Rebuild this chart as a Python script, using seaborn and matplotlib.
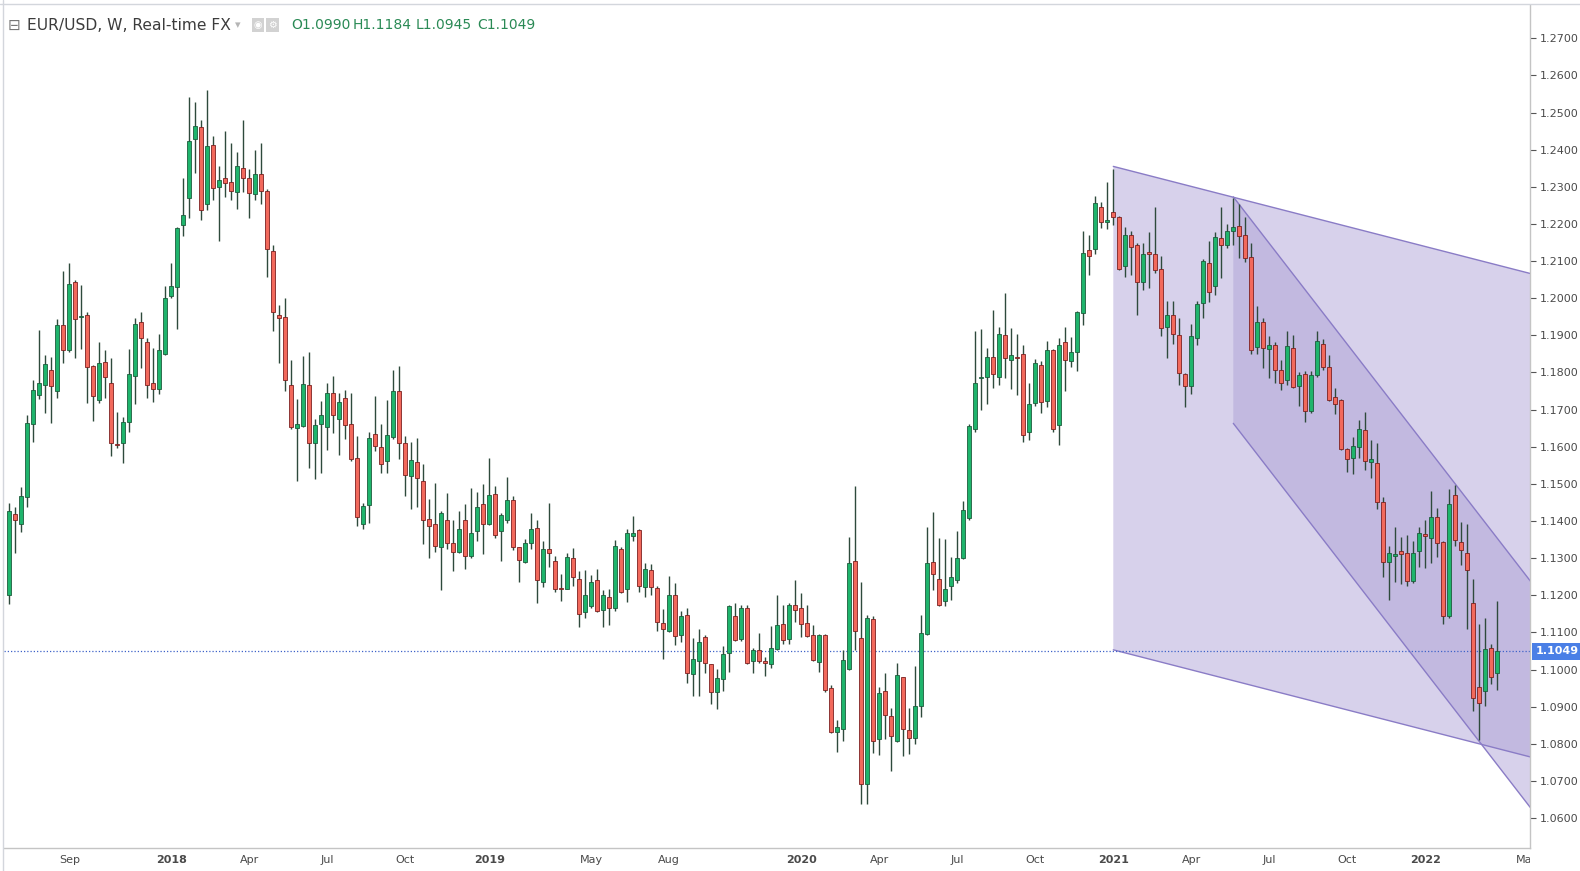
import numpy as np
import pandas as pd
import matplotlib
matplotlib.use("Agg")
import matplotlib.pyplot as plt
from matplotlib.transforms import Bbox
import seaborn as sns

START_WEEK = "2017-06-26"

opens = [1.1202, 1.1418, 1.1391, 1.1464, 1.1660, 1.1738, 1.1765, 1.1806, 1.1749, 1.1927,
         1.1860, 1.2043, 1.1950, 1.1954, 1.1817, 1.1727, 1.1827, 1.1773, 1.1608, 1.1609,
         1.1666, 1.1790, 1.1935, 1.1881, 1.1771, 1.1755, 1.1851, 1.2005, 1.2029, 1.2198,
         1.2269, 1.2428, 1.2460, 1.2255, 1.2412, 1.2299, 1.2325, 1.2312, 1.2285, 1.2350,
         1.2325, 1.2280, 1.2334, 1.2290, 1.2126, 1.1954, 1.1949, 1.1765, 1.1650, 1.1657,
         1.1765, 1.1609, 1.1660, 1.1652, 1.1746, 1.1676, 1.1730, 1.1660, 1.1571, 1.1391,
         1.1442, 1.1633, 1.1598, 1.1561, 1.1625, 1.1749, 1.1609, 1.1520, 1.1558, 1.1507,
         1.1406, 1.1391, 1.1331, 1.1402, 1.1342, 1.1316, 1.1402, 1.1307, 1.1372, 1.1445,
         1.1391, 1.1472, 1.1372, 1.1404, 1.1456, 1.1329, 1.1289, 1.1340, 1.1380, 1.1237,
         1.1324, 1.1291, 1.1220, 1.1218, 1.1299, 1.1245, 1.1154, 1.1170, 1.1240, 1.1159,
         1.1194, 1.1167, 1.1324, 1.1216, 1.1360, 1.1375, 1.1221, 1.1267, 1.1219, 1.1124,
         1.1103, 1.1202, 1.1092, 1.1146, 1.0987, 1.1022, 1.1087, 1.1014, 1.0939, 1.0974,
         1.1044, 1.1143, 1.1081, 1.1165, 1.1022, 1.1052, 1.1022, 1.1014, 1.1054, 1.1122,
         1.1081, 1.1173, 1.1167, 1.1124, 1.1092, 1.1019, 1.1092, 1.0949, 1.0831, 1.0839,
         1.1001, 1.1291, 1.1084, 1.0693, 1.1135, 1.0812, 1.0941, 1.0874, 1.0807, 1.0979,
         1.0836, 1.0815, 1.0901, 1.1095, 1.1289, 1.1245, 1.1184, 1.1226, 1.1240, 1.1299,
         1.1407, 1.1647, 1.1784, 1.1789, 1.1841, 1.1787, 1.1900, 1.1833, 1.1842, 1.1849,
         1.1639, 1.1717, 1.1819, 1.1722, 1.1860, 1.1658, 1.1881, 1.1830, 1.1854, 1.1959,
         1.2129, 1.2132, 1.2245, 1.2204, 1.2231, 1.2218, 1.2086, 1.2169, 1.2142, 1.2043,
         1.2124, 1.2118, 1.2080, 1.1922, 1.1954, 1.1900, 1.1795, 1.1763, 1.1892, 1.1986,
         1.2094, 1.2032, 1.2161, 1.2142, 1.2180, 1.2194, 1.2169, 1.2110, 1.1868, 1.1935,
         1.1862, 1.1873, 1.1808, 1.1779, 1.1865, 1.1763, 1.1795, 1.1695, 1.1792, 1.1878,
         1.1814, 1.1733, 1.1725, 1.1593, 1.1571, 1.1598, 1.1644, 1.1558, 1.1555, 1.1452,
         1.1290, 1.1307, 1.1320, 1.1315, 1.1238, 1.1319, 1.1364, 1.1353, 1.1412, 1.1343,
         1.1144, 1.1469, 1.1343, 1.1315, 1.1178, 1.0952, 1.0942, 1.1057, 1.0990]
highs = [1.1448, 1.1439, 1.1491, 1.1686, 1.1780, 1.1914, 1.1847, 1.1842, 1.1943, 1.2073,
         1.2094, 1.2050, 1.2036, 1.1964, 1.1821, 1.1881, 1.1860, 1.1838, 1.1693, 1.1679,
         1.1863, 1.1946, 1.1963, 1.1892, 1.1867, 1.1903, 1.2033, 1.2094, 1.2193, 1.2325,
         1.2541, 1.2528, 1.2480, 1.2561, 1.2437, 1.2356, 1.2450, 1.2419, 1.2394, 1.2480,
         1.2347, 1.2399, 1.2419, 1.2293, 1.2143, 1.1981, 1.2000, 1.1834, 1.1728, 1.1844,
         1.1854, 1.1676, 1.1722, 1.1771, 1.1791, 1.1746, 1.1752, 1.1746, 1.1628, 1.1448,
         1.1641, 1.1736, 1.1660, 1.1725, 1.1807, 1.1817, 1.1628, 1.1612, 1.1623, 1.1553,
         1.1458, 1.1503, 1.1426, 1.1476, 1.1402, 1.1427, 1.1445, 1.1488, 1.1477, 1.1499,
         1.1571, 1.1493, 1.1421, 1.1518, 1.1466, 1.1330, 1.1351, 1.1421, 1.1402, 1.1345,
         1.1448, 1.1307, 1.1256, 1.1313, 1.1326, 1.1264, 1.1267, 1.1254, 1.1270, 1.1213,
         1.1216, 1.1348, 1.1330, 1.1378, 1.1413, 1.1378, 1.1286, 1.1283, 1.1224, 1.1162,
         1.1251, 1.1232, 1.1157, 1.1165, 1.1084, 1.1108, 1.1092, 1.1015, 1.1001, 1.1062,
         1.1173, 1.1178, 1.1175, 1.1175, 1.1057, 1.1097, 1.1033, 1.1116, 1.1200, 1.1175,
         1.1178, 1.1240, 1.1205, 1.1173, 1.1119, 1.1095, 1.1095, 1.0957, 1.0863, 1.1052,
         1.1356, 1.1493, 1.1237, 1.1146, 1.1143, 1.0952, 1.0990, 1.0896, 1.1017, 1.0980,
         1.0896, 1.1009, 1.1146, 1.1383, 1.1423, 1.1353, 1.1351, 1.1302, 1.1372, 1.1453,
         1.1660, 1.1911, 1.1916, 1.1865, 1.1967, 1.1922, 1.2013, 1.1919, 1.1903, 1.1873,
         1.1771, 1.1835, 1.1830, 1.1884, 1.1862, 1.1892, 1.1922, 1.1895, 1.1965, 1.2180,
         1.2169, 1.2274, 1.2258, 1.2312, 1.2349, 1.2222, 1.2191, 1.2180, 1.2148, 1.2150,
         1.2177, 1.2245, 1.2115, 1.1992, 1.1992, 1.1948, 1.1798, 1.1930, 1.1992, 1.2105,
         1.2153, 1.2177, 1.2247, 1.2199, 1.2269, 1.2255, 1.2220, 1.2150, 1.1978, 1.1946,
         1.1897, 1.1881, 1.1833, 1.1911, 1.1900, 1.1800, 1.1803, 1.1803, 1.1911, 1.1889,
         1.1846, 1.1757, 1.1728, 1.1596, 1.1625, 1.1671, 1.1693, 1.1617, 1.1609, 1.1464,
         1.1332, 1.1383, 1.1356, 1.1361, 1.1345, 1.1385, 1.1404, 1.1482, 1.1434, 1.1345,
         1.1485, 1.1496, 1.1396, 1.1391, 1.1245, 1.1122, 1.1138, 1.1070, 1.1184]
lows = [1.1176, 1.1313, 1.1371, 1.1439, 1.1614, 1.1728, 1.1690, 1.1665, 1.1732, 1.1826,
        1.1856, 1.1840, 1.1864, 1.1719, 1.1670, 1.1719, 1.1732, 1.1576, 1.1596, 1.1557,
        1.1641, 1.1714, 1.1811, 1.1730, 1.1721, 1.1741, 1.1847, 1.2000, 1.1918, 1.2168,
        1.2217, 1.2338, 1.2210, 1.2238, 1.2264, 1.2155, 1.2273, 1.2264, 1.2241, 1.2287,
        1.2217, 1.2264, 1.2254, 1.2058, 1.1913, 1.1826, 1.1751, 1.1647, 1.1509, 1.1654,
        1.1544, 1.1512, 1.1528, 1.1592, 1.1636, 1.1577, 1.1620, 1.1561, 1.1386, 1.1378,
        1.1394, 1.1588, 1.1528, 1.1528, 1.1620, 1.1568, 1.1466, 1.1431, 1.1437, 1.1337,
        1.1301, 1.1317, 1.1214, 1.1325, 1.1266, 1.1313, 1.1270, 1.1299, 1.1345, 1.1310,
        1.1389, 1.1353, 1.1291, 1.1394, 1.1321, 1.1235, 1.1286, 1.1324, 1.1178, 1.1221,
        1.1275, 1.1210, 1.1184, 1.1216, 1.1226, 1.1114, 1.1138, 1.1167, 1.1154, 1.1114,
        1.1119, 1.1157, 1.1205, 1.1181, 1.1345, 1.1208, 1.1194, 1.1200, 1.1103, 1.1027,
        1.1100, 1.1065, 1.1073, 1.0963, 1.0928, 1.0928, 1.0990, 1.0906, 1.0893, 1.0941,
        1.0992, 1.1076, 1.1076, 1.1015, 1.0990, 1.1017, 1.0982, 1.1003, 1.1052, 1.1070,
        1.1070, 1.1127, 1.1087, 1.1087, 1.1024, 1.0992, 1.0940, 1.0828, 1.0777, 1.0807,
        1.1000, 1.1052, 1.0638, 1.0638, 1.0774, 1.0769, 1.0812, 1.0728, 1.0805, 1.0766,
        1.0772, 1.0799, 1.0871, 1.1094, 1.1213, 1.1170, 1.1170, 1.1186, 1.1232, 1.1298,
        1.1404, 1.1639, 1.1698, 1.1714, 1.1757, 1.1765, 1.1784, 1.1755, 1.1738, 1.1614,
        1.1617, 1.1709, 1.1690, 1.1706, 1.1641, 1.1606, 1.1749, 1.1816, 1.1803, 1.1927,
        1.2062, 1.2118, 1.2188, 1.2186, 1.2196, 1.2076, 1.2056, 1.2062, 1.1954, 1.2021,
        1.2027, 1.2067, 1.1897, 1.1838, 1.1876, 1.1765, 1.1706, 1.1741, 1.1873, 1.1946,
        1.1989, 1.2010, 1.2054, 1.2134, 1.2142, 1.2107, 1.2097, 1.1849, 1.1851, 1.1811,
        1.1784, 1.1773, 1.1754, 1.1765, 1.1757, 1.1709, 1.1666, 1.1692, 1.1787, 1.1806,
        1.1724, 1.1687, 1.1592, 1.1531, 1.1526, 1.1571, 1.1536, 1.1515, 1.1433, 1.1250,
        1.1186, 1.1235, 1.1229, 1.1225, 1.1232, 1.1275, 1.1273, 1.1286, 1.1302, 1.1122,
        1.1140, 1.1332, 1.1281, 1.1108, 1.0887, 1.0810, 1.0901, 1.0960, 1.0945]
closes = [1.1427, 1.1403, 1.1468, 1.1663, 1.1752, 1.1773, 1.1822, 1.1763, 1.1927, 1.1860,
          1.2037, 1.1943, 1.1953, 1.1814, 1.1736, 1.1825, 1.1787, 1.1609, 1.1605, 1.1666,
          1.1795, 1.1930, 1.1892, 1.1765, 1.1755, 1.1860, 1.2000, 1.2032, 1.2189, 1.2223,
          1.2423, 1.2463, 1.2237, 1.2410, 1.2296, 1.2318, 1.2309, 1.2290, 1.2355, 1.2325,
          1.2284, 1.2334, 1.2290, 1.2132, 1.1962, 1.1946, 1.1779, 1.1652, 1.1660, 1.1768,
          1.1609, 1.1658, 1.1685, 1.1746, 1.1685, 1.1720, 1.1658, 1.1566, 1.1410, 1.1440,
          1.1623, 1.1601, 1.1553, 1.1631, 1.1749, 1.1609, 1.1523, 1.1563, 1.1515, 1.1402,
          1.1386, 1.1334, 1.1422, 1.1340, 1.1316, 1.1378, 1.1307, 1.1369, 1.1437, 1.1392,
          1.1469, 1.1361, 1.1415, 1.1456, 1.1329, 1.1294, 1.1342, 1.1378, 1.1240, 1.1324,
          1.1313, 1.1218, 1.1217, 1.1302, 1.1248, 1.1149, 1.1202, 1.1235, 1.1157, 1.1202,
          1.1167, 1.1332, 1.1208, 1.1367, 1.1369, 1.1224, 1.1270, 1.1221, 1.1127, 1.1108,
          1.1200, 1.1089, 1.1143, 1.0990, 1.1027, 1.1073, 1.1017, 1.0939, 1.0976, 1.1041,
          1.1170, 1.1079, 1.1167, 1.1017, 1.1052, 1.1022, 1.1017, 1.1057, 1.1119, 1.1079,
          1.1175, 1.1159, 1.1122, 1.1089, 1.1025, 1.1092, 1.0944, 1.0831, 1.0844, 1.1025,
          1.1286, 1.1105, 1.0693, 1.1140, 1.0807, 1.0936, 1.0877, 1.0820, 1.0984, 1.0839,
          1.0815, 1.0901, 1.1097, 1.1286, 1.1256, 1.1175, 1.1218, 1.1248, 1.1299, 1.1429,
          1.1655, 1.1773, 1.1787, 1.1841, 1.1795, 1.1903, 1.1838, 1.1846, 1.1839, 1.1631,
          1.1714, 1.1825, 1.1720, 1.1860, 1.1647, 1.1873, 1.1833, 1.1854, 1.1962, 1.2121,
          1.2113, 1.2256, 1.2204, 1.2212, 1.2220, 1.2080, 1.2169, 1.2137, 1.2043, 1.2118,
          1.2118, 1.2075, 1.1919, 1.1954, 1.1903, 1.1798, 1.1763, 1.1897, 1.1984, 1.2099,
          1.2018, 1.2164, 1.2142, 1.2180, 1.2191, 1.2167, 1.2107, 1.1860, 1.1935, 1.1865,
          1.1873, 1.1806, 1.1771, 1.1870, 1.1760, 1.1792, 1.1695, 1.1792, 1.1884, 1.1814,
          1.1725, 1.1714, 1.1593, 1.1566, 1.1601, 1.1647, 1.1561, 1.1566, 1.1450, 1.1289,
          1.1315, 1.1311, 1.1311, 1.1238, 1.1315, 1.1367, 1.1359, 1.1412, 1.1340, 1.1144,
          1.1446, 1.1348, 1.1321, 1.1267, 1.0924, 1.0909, 1.1054, 1.0979, 1.1049]

# x-axis labels as shown under the chart
tick_dates = ["2017-09-04", "2018-01-01", "2018-04-02", "2018-07-02", "2018-10-01",
              "2019-01-07", "2019-05-06", "2019-08-05", "2020-01-06", "2020-04-06",
              "2020-07-06", "2020-10-05", "2021-01-04", "2021-04-05", "2021-07-05",
              "2021-10-04", "2022-01-03", "2022-05-02"]
tick_labels = ["Sep", "2018", "Apr", "Jul", "Oct", "2019", "May", "Aug", "2020", "Apr",
               "Jul", "Oct", "2021", "Apr", "Jul", "Oct", "2022", "May"]

price_ticks = [1.06, 1.07, 1.08, 1.09, 1.10, 1.11, 1.12, 1.13, 1.14, 1.15, 1.16,
               1.17, 1.18, 1.19, 1.20, 1.21, 1.22, 1.23, 1.24, 1.25, 1.26, 1.27]

# parallel channels drawn on the chart (anchor week, top price, bottom price, slope per week)
outer_channel = ["2021-01-04", 1.2355, 1.1053, -0.000415]
inner_channel = ["2021-05-24", 1.2273, 1.1663, -0.00209]

GREEN = "#1fb46c"
GREEN_EDGE = "#1d5c3c"
RED = "#f2695c"
RED_EDGE = "#7c2020"
WICK = "#2e4a3c"
CHANNEL_FILL = "#ad9fd6"
CHANNEL_LINE = "#8a7cc6"
TEXT = "#4a4a4a"

W, H = 1580, 871
start = pd.Timestamp(START_WEEK)


def week_pos(d):
    return (pd.Timestamp(d) - start).days / 7.0


sns.set_style("white")
plt.rcParams["font.family"] = ["DejaVu Sans"]

fig = plt.figure(figsize=(W / 100, H / 100), dpi=100)
ax = fig.add_axes([4 / W, (H - 848) / H, (1530 - 4) / W, (848 - 5) / H])

o = np.array(opens)
h = np.array(highs)
l = np.array(lows)
c = np.array(closes)
x = np.arange(len(o))

xmin, xmax = -0.88, 253.45
ax.set_xlim(xmin, xmax)
ax.set_ylim(1.05193, 1.27897)

# channels
for anchor, top0, bot0, slope in (outer_channel, inner_channel):
    x0 = week_pos(anchor)
    xs = np.array([x0, xmax + 1])
    top = top0 + slope * (xs - x0)
    bot = bot0 + slope * (xs - x0)
    ax.fill([xs[0], xs[1], xs[1], xs[0]], [top[0], top[1], bot[1], bot[0]],
            color=CHANNEL_FILL, alpha=0.48, lw=0, zorder=1)
    edges = pd.DataFrame({"week": np.concatenate([xs, xs]),
                          "price": np.concatenate([top, bot]),
                          "edge": ["top", "top", "bot", "bot"]})
    sns.lineplot(data=edges, x="week", y="price", units="edge", estimator=None,
                 color=CHANNEL_LINE, lw=1.0, ax=ax, zorder=2, legend=False)

# last price line
ax.axhline(c[-1], color="#3f63c9", lw=0.9, ls=(0, (1, 1.6)), zorder=2)

# candles
up = c >= o
body_lo = np.minimum(o, c)
body_h = np.maximum(np.abs(c - o), 0.00028)
ax.vlines(x, l, h, color=WICK, lw=1.0, zorder=3)
ax.bar(x[up], body_h[up], bottom=body_lo[up], width=0.64, color=GREEN,
       edgecolor=GREEN_EDGE, linewidth=0.6, zorder=4)
ax.bar(x[~up], body_h[~up], bottom=body_lo[~up], width=0.64, color=RED,
       edgecolor=RED_EDGE, linewidth=0.6, zorder=4)

ax.set_xlabel("")
ax.set_ylabel("")

# price axis on the right
ax.yaxis.tick_right()
ax.set_yticks(price_ticks)
ax.set_yticklabels([f"{p:.4f}" for p in price_ticks])
ax.tick_params(axis="y", direction="out", length=4, width=0.8, colors="#555555",
               labelsize=8, pad=3, labelcolor=TEXT)
ax.set_xticks([])

for side in ("top", "left"):
    ax.spines[side].set_visible(False)
for side in ("right", "bottom"):
    ax.spines[side].set_color("#c4c4c4")
    ax.spines[side].set_linewidth(1.0)

# date labels, the last one cut by the price scale
clip = Bbox.from_extents(0, 0, 1530, H)
for d, lab in zip(tick_dates, tick_labels):
    t = ax.text(week_pos(d), -0.0145, lab, transform=ax.get_xaxis_transform(),
                ha="center", va="center", fontsize=8, color=TEXT,
                fontweight="bold" if lab.isdigit() else "normal", clip_on=True)
    t.set_clip_box(clip)

# last price tag
ax.text(1.0035, c[-1], f"{c[-1]:.4f}", transform=ax.get_yaxis_transform(),
        ha="left", va="center", fontsize=8, color="white", fontweight="bold",
        bbox=dict(boxstyle="square,pad=0.3", fc="#4a7fe6", ec="none"), zorder=6,
        clip_on=False)

# frame bits of the terminal window
fig.lines.append(plt.Line2D([0, 1], [1 - 4.5 / H] * 2, transform=fig.transFigure,
                            color="#d3d6dc", lw=1))
fig.lines.append(plt.Line2D([2.5 / W] * 2, [0, 1], transform=fig.transFigure,
                            color="#d3d6dc", lw=1))

# header
hy = 1 - 25 / H
fig.text(8 / W, hy, "\u229f", fontsize=11, color="#777777", va="center")
fig.text(27 / W, hy, "EUR/USD, W, Real-time FX", fontsize=11.2, color="#3c3c3c",
         va="center")
fig.text(235 / W, hy, "\u25be", fontsize=8, color="#b5b5b5", va="center")
for xi, sym in ((254, "\u25c9"), (268, "\u2699")):
    fig.text(xi / W, hy, sym, fontsize=7, color="white", va="center",
             bbox=dict(boxstyle="square,pad=0.2", fc="#d2d2d2", ec="none"))
for xi, lab in ((291, "O1.0990"), (353, "H1.1184"), (416, "L1.0945"), (477, "C1.1049")):
    fig.text(xi / W, hy, lab, fontsize=10, color="#2a8a55", va="center")

fig.savefig("out.png", dpi=100, facecolor="white")
